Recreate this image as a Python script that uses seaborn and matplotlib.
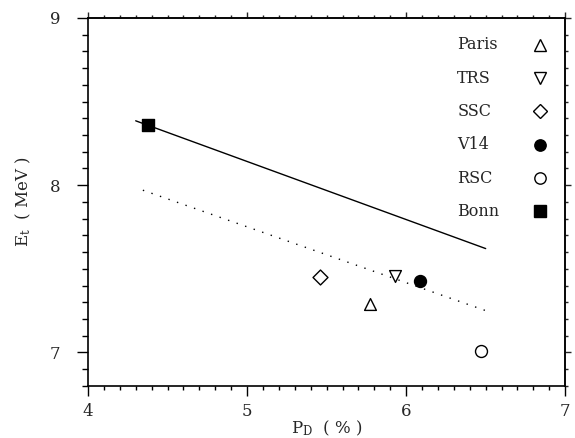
import matplotlib
matplotlib.use("Agg")
import matplotlib.pyplot as plt
import seaborn as sns

# data
models = ["Paris", "TRS", "SSC", "V14", "RSC", "Bonn"]
pd_vals = [5.77, 5.93, 5.46, 6.09, 6.47, 4.38]
et_vals = [7.29, 7.46, 7.45, 7.43, 7.01, 8.36]
markers = ["^", "v", "D", "o", "o", "s"]
filled = [False, False, False, True, False, True]
msizes = [8.5, 8.5, 7.6, 8.6, 8.6, 9.2]

solid_x = [4.30, 6.50]
solid_y = [8.385, 7.621]
dotted_x = [4.345, 6.50]
dotted_y = [7.97, 7.25]

x_major = [4, 5, 6, 7]
y_major = [7, 8, 9]

sns.set_style("ticks")
plt.rcParams["font.family"] = ["DejaVu Serif"]
plt.rcParams["mathtext.fontset"] = "dejavuserif"

fig = plt.figure(figsize=(5.75, 4.38), dpi=100)
ax = fig.add_axes([0.153, 0.119, 0.830, 0.840])

sns.lineplot(x=solid_x, y=solid_y, ax=ax, color="black", linewidth=1.0)
sns.lineplot(x=dotted_x, y=dotted_y, ax=ax, color="black", linewidth=1.0,
             linestyle=(0, (1, 5.5)))

for x, y, m, f, ms in zip(pd_vals, et_vals, markers, filled, msizes):
    sns.scatterplot(x=[x], y=[y], ax=ax, marker=m, s=ms ** 2,
                    color="black" if f else "white", edgecolor="black",
                    linewidth=1.0, zorder=5)

# manual legend (text left aligned, markers aligned at right)
y0, dy = 0.927, 0.0905
for i, (name, m, f, ms) in enumerate(zip(models, markers, filled, msizes)):
    yy = y0 - i * dy
    ax.text(0.774, yy, name, transform=ax.transAxes, fontsize=11.5,
            ha="left", va="center")
    ax.plot([0.948], [yy], marker=m, markersize=ms * 0.95,
            markerfacecolor="black" if f else "white",
            markeredgecolor="black", markeredgewidth=1.0,
            transform=ax.transAxes, clip_on=False, linestyle="none")

ax.set_xlim(4, 7)
ax.set_ylim(6.8, 9)
x_minor = [4 + 0.1 * k for k in range(31)]
y_minor = [6.8 + 0.1 * k for k in range(23)]
ax.set_xticks(x_major)
ax.set_yticks(y_major)
ax.set_xticks(x_minor, minor=True)
ax.set_yticks(y_minor, minor=True)
ax.tick_params(which="both", direction="out", top=False, right=False,
               width=1.0, color="black")
ax.tick_params(axis="x", which="major", length=7, labelsize=12, pad=5)
ax.tick_params(axis="x", which="minor", length=3)
ax.tick_params(axis="y", which="major", length=8, labelsize=12, pad=12)
ax.tick_params(axis="y", which="minor", length=4.5)
for sp in ax.spines.values():
    sp.set_visible(True)
    sp.set_linewidth(1.2)
    sp.set_color("black")

# shorter ticks on top and right
top = ax.secondary_xaxis("top")
top.set_xticks(x_major)
top.set_xticks(x_minor, minor=True)
top.tick_params(which="both", direction="out", labeltop=False, width=1.0)
top.tick_params(which="major", length=4.5)
top.tick_params(which="minor", length=2.5)
top.spines["top"].set_linewidth(1.2)
right = ax.secondary_yaxis("right")
right.set_yticks(y_major)
right.set_yticks(y_minor, minor=True)
right.tick_params(which="both", direction="out", labelright=False, width=1.0)
right.tick_params(which="major", length=4.5)
right.tick_params(which="minor", length=2.5)
right.spines["right"].set_linewidth(1.2)

ax.set_xlabel(r"P$_\mathrm{D}$  ( % )", fontsize=12, labelpad=-1)
ax.set_ylabel(r"E$_\mathrm{t}$  ( MeV )", fontsize=12, labelpad=12)

fig.savefig("out.png", dpi=100)
